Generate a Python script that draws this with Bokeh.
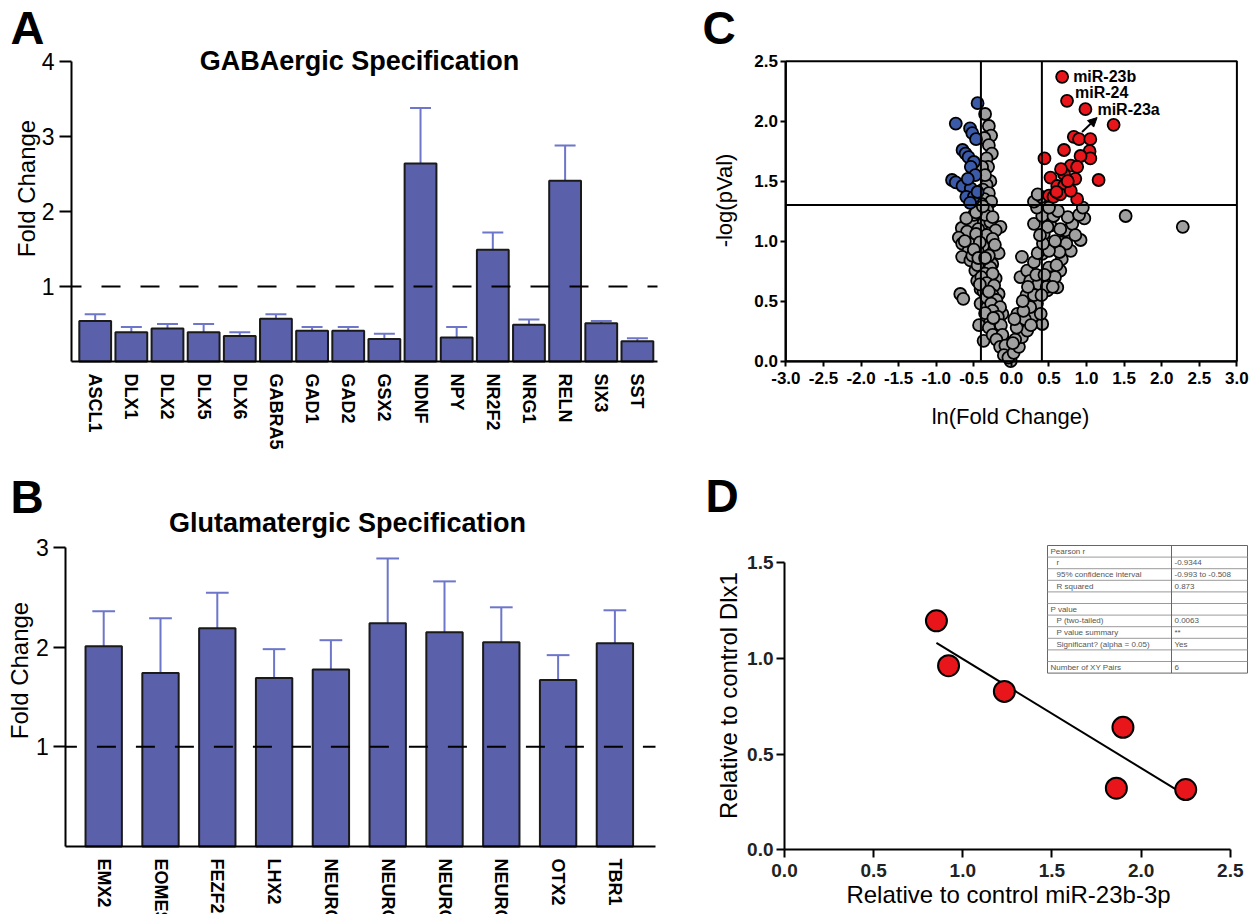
import math
import numpy as np
from bokeh.plotting import figure
from bokeh.models import (Range1d, LinearAxis, FixedTicker, Label, Arrow, NormalHead,
                          NumeralTickFormatter)
from bokeh.embed import file_html
from bokeh.resources import INLINE
from bokeh.core.properties import value

FONT = "Liberation Sans"

# ---------------- data ----------------
a_genes = ["ASCL1", "DLX1", "DLX2", "DLX5", "DLX6", "GABRA5", "GAD1", "GAD2", "GSX2",
           "NDNF", "NPY", "NR2F2", "NRG1", "RELN", "SIX3", "SST"]
a_mean = [0.54, 0.39, 0.44, 0.39, 0.34, 0.57, 0.41, 0.41, 0.30, 2.64, 0.32, 1.49, 0.49, 2.41, 0.51, 0.27]
a_err_top = [0.63, 0.46, 0.50, 0.50, 0.39, 0.63, 0.46, 0.46, 0.37, 3.38, 0.46, 1.72, 0.56, 2.88, 0.54, 0.31]
a_yticks = [1, 2, 3, 4]

b_genes = ["EMX2", "EOMES", "FEZF2", "LHX2", "NEUROD1", "NEUROD2", "NEUROD6", "NEUROG2", "OTX2", "TBR1"]
b_mean = [2.01, 1.74, 2.19, 1.69, 1.775, 2.24, 2.15, 2.05, 1.67, 2.04]
b_err_top = [2.36, 2.29, 2.545, 1.98, 2.07, 2.89, 2.66, 2.40, 1.92, 2.37]
b_yticks = [1, 2, 3]

c_gray_x = [-0.35, -0.30, -0.27, -0.36, -0.30, -0.26, -0.33, -0.31, -0.37, -0.28, -0.33, -0.38, -0.30, -0.36,
            -0.27, -0.40, -0.39, -0.35,
            -0.45, -0.32, -0.41, -0.52, -0.37, -0.28, -0.66, -0.145, -0.59, -0.21, -0.70, -0.455, -0.655, -0.28,
            -0.57, -0.41, -0.17, -0.655, -0.545, -0.255, -0.37, -0.48, -0.21, -0.32, -0.455, -0.41, -0.28, -0.68,
            -0.17, -0.64, -0.41, -0.21, -0.32, -0.12, -0.28, -0.43, -0.19, -0.37, -0.10, -0.06, -0.01,
            -0.50, -0.35, -0.25, -0.44, -0.33, -0.25, -0.50, -0.38, -0.22, -0.45, -0.30, -0.52, -0.40, -0.28,
            -0.45, -0.35, -0.25, -0.40, -0.33, -0.23, -0.37, -0.25, -0.33, -0.20, -0.27, -0.15, -0.25, -0.35,
            -0.18, -0.22, -0.14, -0.30, -0.25, -0.12, -0.20, -0.15, -0.08, -0.10, -0.04,
            -0.60, -0.47, -0.42, -0.62, -0.50, -0.44, -0.35, -0.42, -0.30, -0.24, -0.47, -0.38,
            0.03, 0.10, 0.14, 0.08, 0.12, 0.21, 0.28, 0.34, 0.41, 0.39, 0.12, 0.21, 0.30, 0.41, 0.50, 0.54, 0.65,
            0.67, 0.79, 0.65, 0.72, 0.81, 0.52, 0.30, 0.41, 0.34, 0.56, 0.14, 0.25, 0.36, 0.48, 0.61, 0.92, 0.97,
            0.73, 0.64, 0.58, 0.47, 0.43, 0.48,
            0.05, 0.07, 0.18, 0.25, 0.20, 0.30, 0.40, 0.55, 0.33, 0.44, 0.60, 0.35, 0.50, 0.58, 0.42, 0.65, 0.38,
            0.75, 0.62, 0.50, 0.85, 0.90, 0.95, 0.30, 0.40, 0.35, 0.04, 0.16, 0.02, 0.26, 0.22, 0.15,
            1.52, 2.28]
c_gray_y = [2.06, 1.96, 1.88, 1.86, 1.80, 1.73, 1.69, 1.62, 1.57, 1.50, 1.47, 1.43, 1.40, 1.35,
            1.33, 1.31, 1.62, 1.55,
            1.26, 1.26, 1.20, 1.15, 1.15, 1.16, 1.11, 1.12, 1.08, 1.09, 1.03, 1.01, 0.98, 0.95,
            0.92, 0.89, 0.90, 0.87, 0.84, 0.81, 0.77, 0.755, 0.69, 0.70, 0.67, 0.60, 0.615, 0.56,
            0.56, 0.52, 0.48, 0.46, 0.45, 0.395, 0.34, 0.30, 0.255, 0.17, 0.17, 0.09, 0.0,
            1.22, 1.22, 1.20, 1.10, 1.05, 1.02, 0.98, 0.96, 0.97, 0.92, 0.88, 0.88, 0.83, 0.78,
            0.80, 0.73, 0.73, 0.70, 0.65, 0.63, 0.58, 0.55, 0.53, 0.51, 0.48, 0.45, 0.42, 0.40,
            0.37, 0.32, 0.30, 0.28, 0.22, 0.22, 0.18, 0.12, 0.13, 0.05, 0.03,
            1.19, 1.06, 0.99, 1.00, 0.93, 0.86, 0.86, 0.64, 0.58, 0.36, 1.24, 1.29,
            0.07, 0.12, 0.20, 0.395, 0.31, 0.255, 0.37, 0.48, 0.31, 0.395, 0.70, 0.755, 0.825, 0.895, 0.78, 0.70, 0.755,
            0.85, 0.92, 0.99, 1.09, 1.145, 1.13, 1.145, 1.21, 1.28, 1.21, 0.87, 0.67, 0.645, 0.59, 0.615, 1.01, 1.19,
            0.98, 0.91, 0.70, 0.62, 1.06, 1.12,
            0.18, 0.28, 0.35, 0.45, 0.55, 0.55, 0.55, 0.62, 0.72, 0.72, 0.80, 0.90, 0.92, 1.00, 0.98, 1.10, 1.05,
            1.20, 1.25, 1.28, 1.05, 1.22, 1.28, 1.33, 1.37, 1.39, 0.35, 0.42, 0.15, 0.30, 0.62, 0.50,
            1.21, 1.12]
c_blue_x = [-0.45, -0.74, -0.55, -0.52, -0.65, -0.61, -0.57, -0.50, -0.54, -0.48, -0.79, -0.74, -0.65,
            -0.54, -0.60, -0.50, -0.45, -0.55, -0.47, -0.58]
c_blue_y = [2.15, 1.98, 1.94, 1.90, 1.76, 1.73, 1.70, 1.66, 1.62, 1.55, 1.51, 1.49, 1.46,
            1.44, 1.37, 1.37, 1.41, 1.32, 1.85, 1.52]
c_red_x = [0.675, 0.74, 0.985, 1.36, 0.83, 0.90, 1.05, 0.70, 0.44, 1.04, 1.05, 0.92, 0.79, 0.875,
           0.70, 1.16, 0.85, 0.52, 0.61, 0.70, 0.50, 0.56, 0.65, 0.875, 0.79, 0.60, 0.75, 0.66]
c_red_y = [2.37, 2.17, 2.10, 1.97, 1.87, 1.85, 1.85, 1.76, 1.69, 1.75, 1.69, 1.71, 1.63, 1.62,
           1.56, 1.51, 1.52, 1.53, 1.46, 1.46, 1.38, 1.37, 1.39, 1.35, 1.42, 1.41, 1.50, 1.60]
c_names = ["miR-23b", "miR-24", "miR-23a"]   # the first three red points
c_xticks = [i * 0.5 for i in range(-6, 7)]
c_yticks = [i * 0.5 for i in range(0, 6)]
fc_cut = math.log(1.5)
p_cut = -math.log10(0.05)

d_x = [0.852, 0.92, 1.233, 1.898, 1.861, 2.25]
d_y = [1.197, 0.962, 0.828, 0.640, 0.322, 0.315]
d_xticks = [0.0, 0.5, 1.0, 1.5, 2.0, 2.5]
d_yticks = [0.0, 0.5, 1.0, 1.5]
d_table_names = ["Pearson r", "r", "95% confidence interval", "R squared", "", "P value",
                 "P (two-tailed)", "P value summary", "Significant? (alpha = 0.05)", "",
                 "Number of XY Pairs"]
d_table_values = ["", "-0.9344", "-0.993 to -0.508", "0.873", "", "", "0.0063", "**", "Yes", "", "6"]
d_table_headers = {"Pearson r", "P value", "Number of XY Pairs", ""}

# ---------------- styles ----------------
BAR = "#5a60aa"
ERR = "#6d76c9"
RED = "#e8161b"
BLUE = "#3b5ba9"
GRAY = "#a0a0a0"

W, H = 1250, 914
X0, Y0 = 0, 0


def rng_x(d0, p0, d1, p1):
    k = (d1 - d0) / (p1 - p0)
    return Range1d(start=d0 + (X0 - p0) * k, end=d0 + (X0 + W - p0) * k)


def rng_y(d0, p0, d1, p1):
    k = (d1 - d0) / (p1 - p0)
    return Range1d(start=d0 + (Y0 + H - p0) * k, end=d0 + (Y0 - p0) * k)


def px2d(d0, p0, d1, p1, px):
    return d0 + (px - p0) * (d1 - d0) / (p1 - p0)


p = figure(width=W, height=H, x_range=Range1d(X0, X0 + W), y_range=Range1d(Y0 + H, Y0),
           x_axis_type=None, y_axis_type=None, output_backend="svg", toolbar_location=None,
           min_border=0, outline_line_color=None)

AX = (0, 94.7, 15, 636.9)
AY = (0, 361, 4, 61)
BX = (0, 103.2, 9, 614.4)
BY = (0, 846, 3, 547)
CX = (-3, 785.4, 3, 1236.4)
CY = (0, 360.7, 2.5, 60.7)
DX = (0, 784, 2.5, 1229.8)
DY = (0, 849.3, 1.5, 562.3)

p.extra_x_ranges = {"ax": rng_x(*AX), "bx": rng_x(*BX), "cx": rng_x(*CX), "dx": rng_x(*DX)}
p.extra_y_ranges = {"ay": rng_y(*AY), "by": rng_y(*BY), "cy": rng_y(*CY), "dy": rng_y(*DY)}


def add_axis(side, xr, yr, loc, bounds, ticks, size="23px", bold=False, tick_out=12, standoff=5,
             orientation="horizontal", overrides=None, fmt=None, color="black"):
    ax = LinearAxis(x_range_name=xr, y_range_name=yr, fixed_location=loc, bounds=bounds,
                    ticker=FixedTicker(ticks=ticks, minor_ticks=[]),
                    axis_line_width=2, axis_line_color="black",
                    major_tick_in=0, major_tick_out=tick_out, major_tick_line_width=2,
                    major_tick_line_color="black" if tick_out > 0 else None,
                    minor_tick_line_color=None, major_label_standoff=standoff,
                    major_label_text_font=FONT, major_label_text_font_size=size,
                    major_label_text_font_style="bold" if bold else "normal",
                    major_label_text_color=color,
                    major_label_orientation=orientation)
    if overrides is not None:
        ax.major_label_overrides = overrides
    if fmt is not None:
        ax.formatter = NumeralTickFormatter(format=fmt)
    p.add_layout(ax, side)


def label(x, y, text, size, bold=False, align="left", angle=0.0, color="black"):
    # y is the vertical centre of the text line
    p.add_layout(Label(x=x, y=y, text=text, text_font=FONT, text_font_size=size,
                       text_font_style="bold" if bold else "normal", text_align=align,
                       text_baseline="middle", angle=angle, text_color=color))


def bar_panel(xr, yr, genes, mean, err, width, cap, left_px, right_px, dash_offset, X, Y, yticks):
    idx = list(range(len(genes)))
    xl = px2d(*X, left_px)
    xrgt = px2d(*X, right_px)
    p.segment(x0=idx, y0=mean, x1=idx, y1=err, x_range_name=xr, y_range_name=yr,
              line_color=ERR, line_width=2)
    p.segment(x0=[i - cap for i in idx], y0=err, x1=[i + cap for i in idx], y1=err,
              x_range_name=xr, y_range_name=yr, line_color=ERR, line_width=2)
    p.vbar(x=idx, top=mean, bottom=0, width=width, x_range_name=xr, y_range_name=yr,
           fill_color=BAR, line_color="#1a1a1a", line_width=2)
    p.segment(x0=[xl], y0=[1], x1=[xrgt], y1=[1], x_range_name=xr, y_range_name=yr,
              line_color="black", line_width=2, line_dash="19 20", line_dash_offset=dash_offset)
    add_axis("left", xr, yr, xl, (0, max(yticks)), yticks, size="23px", tick_out=12, standoff=5)
    add_axis("below", xr, yr, 0, (xl, xrgt), idx, size="18px", bold=True, tick_out=0, standoff=12,
             orientation="vertical", overrides={i: g for i, g in enumerate(genes)})


# ---------------- Panel A ----------------
bar_panel("ax", "ay", a_genes, a_mean, a_err_top, 0.88, 0.29, 71, 657, 9, AX, AY, a_yticks)
label(10, 27, "A", "47px", bold=True)
label(359, 60, "GABAergic Specification", "27px", bold=True, align="center")
label(26, 188, "Fold Change", "24px", align="center", angle=math.pi / 2)

# ---------------- Panel B ----------------
bar_panel("bx", "by", b_genes, b_mean, b_err_top, 0.64, 0.2, 65.4, 655, 8, BX, BY, b_yticks)
label(10, 496, "B", "46px", bold=True)
label(347, 522, "Glutamatergic Specification", "27px", bold=True, align="center")
label(19, 670, "Fold Change", "24px", align="center", angle=math.pi / 2)

# ---------------- Panel C ----------------
kw = dict(x_range_name="cx", y_range_name="cy")
p.scatter(c_gray_x, c_gray_y, size=12, fill_color=GRAY, line_color="black", line_width=1.8, **kw)
p.scatter(c_blue_x, c_blue_y, size=12, fill_color=BLUE, line_color="black", line_width=1.8, **kw)
p.scatter(c_red_x, c_red_y, size=12, fill_color=RED, line_color="black", line_width=1.8, **kw)
p.quad(left=[min(c_xticks)], right=[max(c_xticks)], bottom=[min(c_yticks)], top=[max(c_yticks)],
       fill_color=None, line_color="black", line_width=2, **kw)
p.segment(x0=[-fc_cut, fc_cut], y0=[min(c_yticks)] * 2, x1=[-fc_cut, fc_cut], y1=[max(c_yticks)] * 2,
          line_color="black", line_width=2, **kw)
p.segment(x0=[min(c_xticks)], y0=[p_cut], x1=[max(c_xticks)], y1=[p_cut],
          line_color="black", line_width=2, **kw)
for i, (dx, base) in enumerate([(11, "middle"), (8, "bottom"), (12, "middle")]):
    p.text(x=[c_red_x[i]], y=[c_red_y[i]], text=[c_names[i]], x_offset=dx, text_baseline=base,
           text_font=value(FONT), text_font_size="16px", text_font_style="bold",
           text_color="black", **kw)
p.add_layout(Arrow(end=NormalHead(size=9, fill_color="black", line_color="black"),
                   x_start=0.94, y_start=1.91, x_end=1.14, y_end=2.03,
                   line_color="black", line_width=2, **kw))
add_axis("left", "cx", "cy", min(c_xticks), (min(c_yticks), max(c_yticks)), c_yticks,
         size="17px", bold=True, tick_out=5, standoff=3, fmt="0.0")
add_axis("below", "cx", "cy", min(c_yticks), (min(c_xticks), max(c_xticks)), c_xticks,
         size="17px", bold=True, tick_out=5, standoff=6, fmt="0.0")
label(702, 27, "C", "46px", bold=True)
label(1010, 416, "ln(Fold Change)", "22px", align="center")
label(724, 200, "-log(pVal)", "22px", align="center", angle=math.pi / 2)

# ---------------- Panel D ----------------
kw = dict(x_range_name="dx", y_range_name="dy")
slope, icpt = np.polyfit(d_x, d_y, 1)
lx = [min(d_x), max(d_x)]
p.line(lx, [slope * v + icpt for v in lx], line_color="black", line_width=2, **kw)
p.scatter(d_x, d_y, size=21, fill_color=RED, line_color="black", line_width=2, **kw)
add_axis("left", "dx", "dy", 0, (0, max(d_yticks)), d_yticks, size="19px", bold=True,
         tick_out=8, standoff=3, fmt="0.0", color="#222222")
add_axis("below", "dx", "dy", 0, (0, max(d_xticks)), d_xticks, size="19px", bold=True,
         tick_out=8, standoff=6, fmt="0.0", color="#222222")
label(705, 495, "D", "46px", bold=True)
label(1008, 894, "Relative to control miR-23b-3p", "24px", align="center")
label(728, 695, "Relative to control Dlx1", "24px", align="center", angle=math.pi / 2)

# stats table (page pixel coordinates)
T_L, T_R, T_M, T_TOP, T_ROW = 1047, 1247, 1171, 545, 11.6
n = len(d_table_names)
T_BOT = T_TOP + n * T_ROW
p.quad(left=[T_L], right=[T_R], top=[T_TOP], bottom=[T_BOT], fill_color="white",
       line_color="#666666", line_width=1)
p.segment(x0=[T_L] * (n - 1), x1=[T_R] * (n - 1), y0=[T_TOP + k * T_ROW for k in range(1, n)],
          y1=[T_TOP + k * T_ROW for k in range(1, n)], line_color="#9a9a9a", line_width=1)
p.segment(x0=[T_M], x1=[T_M], y0=[T_TOP], y1=[T_BOT], line_color="#666666", line_width=1)
ys = [T_TOP + (k + 0.5) * T_ROW for k in range(n)]
xs = [T_L + 3 if nm in d_table_headers else T_L + 9 for nm in d_table_names]
p.text(x=xs, y=ys, text=d_table_names, text_font=value(FONT), text_font_size="8px",
       text_color="#555555", text_baseline="middle")
p.text(x=[T_M + 3] * n, y=ys, text=d_table_values, text_font=value(FONT), text_font_size="8px",
       text_color="#555555", text_baseline="middle")

open("out.html", "w").write(file_html(p, INLINE))
